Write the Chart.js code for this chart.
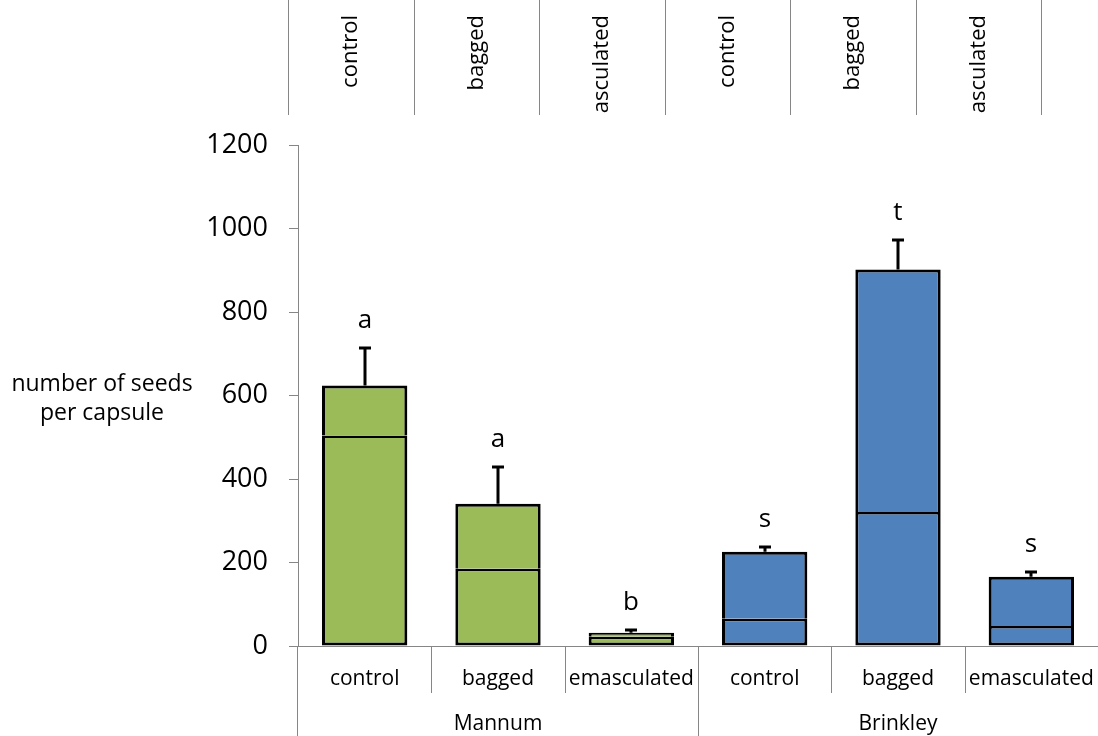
<!DOCTYPE html>
<html lang="en">
<head>
<meta charset="UTF-8">
<title>Seeds per capsule</title>
<script src="https://cdn.jsdelivr.net/npm/chart.js@4"></script>
<style>
  html, body { margin: 0; padding: 0; background: #fff; }
  canvas { display: block; }
</style>
</head>
<body>
<canvas id="seedChart" width="1098" height="736"></canvas>
<script>
// treatments per site, seeds per capsule (bar total + the lower segment), SE and letters
const treatments = ["control", "bagged", "emasculated", "control", "bagged", "emasculated"];
const sites = ["Mannum", "Brinkley"];
const lowerPart = [504, 185, 22, 65, 321, 48];
const barTotal = [624, 341, 32, 226, 902, 166];
const stdErr = [89, 87, 6, 10, 70, 11];
const letters = ["a", "a", "b", "s", "t", "s"];
const yMax = 1200;
const yStep = 200;

const siteColors = ["#9BBB59", "#4F81BD"];
const barColors = treatments.map((t, i) => siteColors[Math.floor(i / 3)]);
const axisGray = "#868686";
const FONT = "'Open Sans', sans-serif";

const upperPart = barTotal.map((v, i) => v - lowerPart[i]);

// error bars, significance letters and the extra axis furniture
const decorations = {
  id: "decorations",
  afterDatasetsDraw(chart) {
    const ctx = chart.ctx;
    const ys = chart.scales.y;
    const meta = chart.getDatasetMeta(1);
    ctx.save();
    ctx.strokeStyle = "#000";
    ctx.lineWidth = 3;
    ctx.fillStyle = "#000";
    ctx.font = "26px " + FONT;
    ctx.textAlign = "center";
    ctx.textBaseline = "middle";
    meta.data.forEach((bar, i) => {
      const x = Math.round(bar.x);
      const y0 = ys.getPixelForValue(barTotal[i]);
      const y1 = Math.round(ys.getPixelForValue(barTotal[i] + stdErr[i]));
      ctx.beginPath();
      ctx.moveTo(x, y0);
      ctx.lineTo(x, y1);
      ctx.moveTo(x - 6, y1);
      ctx.lineTo(x + 6, y1);
      ctx.stroke();
      ctx.fillText(letters[i], x, y1 - 27);
    });
    ctx.restore();
  },
  afterDraw(chart) {
    const ctx = chart.ctx;
    const area = chart.chartArea;
    const xs = chart.scales.x;
    const H = chart.height;
    ctx.save();
    ctx.strokeStyle = axisGray;
    ctx.lineWidth = 1;

    // vertical axis runs on through the category labels
    const lx = Math.round(area.left) - 0.5;
    ctx.beginPath();
    ctx.moveTo(lx, area.bottom);
    ctx.lineTo(lx, H);
    ctx.stroke();

    // dividers between treatments, full height between sites
    for (let i = 1; i < treatments.length; i++) {
      const bx = Math.round((xs.getPixelForValue(i - 1) + xs.getPixelForValue(i)) / 2) + 0.5;
      const full = i % 3 === 0;
      ctx.beginPath();
      ctx.moveTo(bx, area.bottom);
      ctx.lineTo(bx, full ? H : area.bottom + 47);
      ctx.stroke();
    }

    // site names under each group
    ctx.fillStyle = "#000";
    ctx.font = "21px " + FONT;
    ctx.textAlign = "center";
    ctx.textBaseline = "middle";
    sites.forEach((s, g) => {
      const cx = (xs.getPixelForValue(g * 3) + xs.getPixelForValue(g * 3 + 2)) / 2;
      ctx.fillText(s, cx, 724);
    });

    // y axis title, horizontal on two lines
    ctx.font = "23px " + FONT;
    ctx.fillText("number of seeds", 102, 384);
    ctx.fillText("per capsule", 102, 413);

    // header strip with the treatments repeated, rotated, cut off at the strip bottom
    const stripLeft = 288, stripStep = 125.5, stripBottom = 115;
    for (let i = 0; i <= treatments.length; i++) {
      const sx = Math.round(stripLeft + i * stripStep) + 0.5;
      ctx.beginPath();
      ctx.moveTo(sx, 0);
      ctx.lineTo(sx, stripBottom);
      ctx.stroke();
    }
    ctx.beginPath();
    ctx.rect(0, 0, chart.width, stripBottom - 1);
    ctx.clip();
    ctx.font = "22px " + FONT;
    ctx.textAlign = "right";
    treatments.forEach((t, i) => {
      ctx.save();
      ctx.translate(stripLeft + (i + 0.5) * stripStep, 15);
      ctx.rotate(-Math.PI / 2);
      ctx.fillText(t, 0, 0);
      ctx.restore();
    });
    ctx.restore();
  }
};

new Chart(document.getElementById("seedChart"), {
  type: "bar",
  data: {
    labels: treatments,
    datasets: [
      {
        // drawn last, so its top edge forms the line inside each bar
        data: lowerPart,
        backgroundColor: barColors,
        borderColor: "#000",
        borderWidth: { top: 2.5, left: 3, right: 3, bottom: 3 },
        borderSkipped: false
      },
      {
        data: upperPart,
        backgroundColor: barColors,
        borderColor: "#000",
        borderWidth: { top: 3, left: 3, right: 3, bottom: 0 },
        borderSkipped: false
      }
    ]
  },
  options: {
    responsive: false,
    devicePixelRatio: 1,
    animation: false,
    barPercentage: 0.64,
    categoryPercentage: 1,
    layout: { padding: { top: 145, right: 0, left: 0, bottom: 0 } },
    plugins: {
      legend: { display: false },
      tooltip: { enabled: false }
    },
    scales: {
      x: {
        stacked: true,
        grid: { display: false, drawTicks: false },
        border: { color: axisGray, width: 1 },
        ticks: {
          color: "#000",
          font: { family: FONT, size: 21 },
          padding: 20,
          maxRotation: 0,
          autoSkip: false
        },
        afterFit(scale) {
          scale.height = 90;
          scale.paddingLeft = 0;
          scale.paddingRight = 0;
        }
      },
      y: {
        stacked: true,
        min: 0,
        max: yMax,
        grid: {
          drawOnChartArea: false,
          drawTicks: true,
          tickLength: 9,
          color: axisGray
        },
        border: { color: axisGray, width: 1 },
        ticks: {
          stepSize: yStep,
          color: "#000",
          font: { family: FONT, size: 27 },
          padding: 21,
          callback: v => String(v)
        },
        afterFit(scale) { scale.width = 298; }
      }
    }
  },
  plugins: [decorations]
});
</script>
</body>
</html>
